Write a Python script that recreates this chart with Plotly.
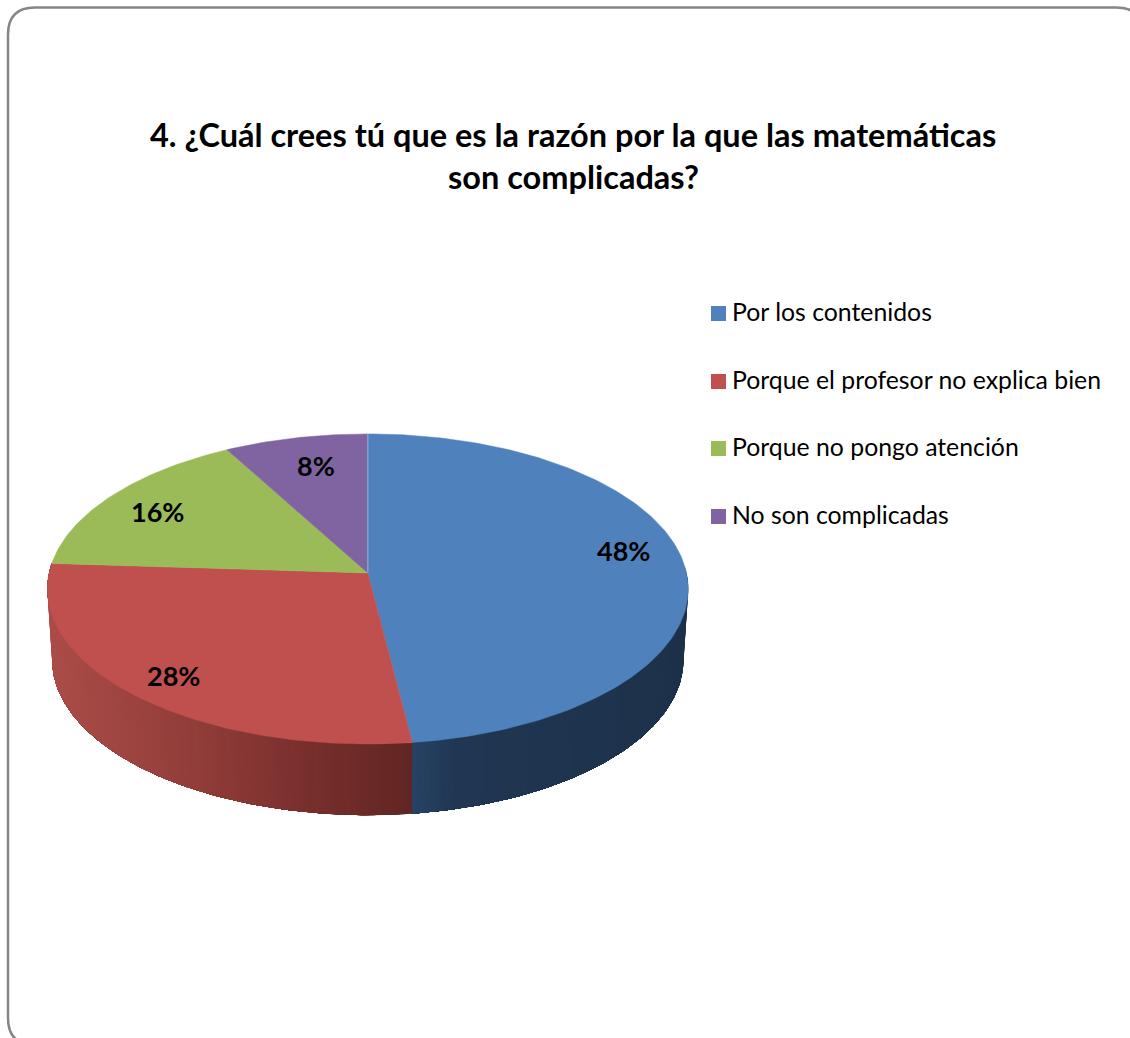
import math
import plotly.graph_objects as go

# Survey results
categories = ["Por los contenidos", "Porque el profesor no explica bien",
              "Porque no pongo atención", "No son complicadas"]
percentages = [48, 28, 16, 8]
title_lines = ["4. ¿Cuál crees tú que es la razón por la que las matemáticas",
               "son complicadas?"]

# Slice styling
top_colors = ["#4F81BD", "#C0504D", "#9BBB59", "#8064A2"]
side_ramps = [
    [(412, (38, 66, 100)), (460, (32, 54, 82)), (690, (29, 49, 74))],
    [(50, (171, 76, 72)), (200, (144, 60, 57)), (300, (122, 48, 45)), (412, (96, 38, 35))],
    None,
    None,
]
label_anchor = [(623.5, 550), (173, 675), (157.5, 511), (316, 465)]
legend_rows = [313.5, 381.5, 448.5, 516.5]

# Perspective model of the tilted disc
APEX_X, APEX_Y = 367.8, 573.0
TILT = 0.103
TOP_A, TOP_B = 318.7, 153.4
BASE_A, BASE_B, BASE_Y = 314.0, 154.0, 643.5
FONT = "Lato"


def project(theta_deg, a, b, cy):
    t = math.radians(theta_deg)
    u, v = math.sin(t), math.cos(t)
    w = 1 + TILT * v
    return APEX_X + a * u / w, cy - b * v / w


def ramp_color(ramp, x):
    if x <= ramp[0][0]:
        c = ramp[0][1]
    elif x >= ramp[-1][0]:
        c = ramp[-1][1]
    else:
        for (x0, c0), (x1, c1) in zip(ramp, ramp[1:]):
            if x0 <= x <= x1:
                f = (x - x0) / (x1 - x0)
                c = tuple(c0[i] + (c1[i] - c0[i]) * f for i in range(3))
                break
    return "rgb(%d,%d,%d)" % tuple(round(p) for p in c)


def degrees_between(a, b, step=1.0):
    n = max(1, int(abs(b - a) / step))
    return [a + (b - a) * i / n for i in range(n + 1)]


fig = go.Figure()

# Slice boundaries in degrees, clockwise from twelve o'clock
total = sum(percentages)
edges = [0.0]
for p in percentages:
    edges.append(edges[-1] + 360.0 * p / total)

# Side wall: each band spans from its own angle to the front end of the slice,
# so later bands paint over earlier ones and no seams show between them
for i, ramp in enumerate(side_ramps):
    if ramp is None:
        continue
    start, end = edges[i], edges[i + 1]
    sweep = degrees_between(max(start, 88.0), end) if i == 0 else degrees_between(end, start)[::-1]
    for j, a0 in enumerate(sweep[:-1]):
        rest = sweep[j:]
        upper = [project(a, TOP_A, TOP_B, APEX_Y) for a in rest]
        lower = [project(a, BASE_A, BASE_B, BASE_Y) for a in reversed(rest)]
        outline = upper + lower + upper[:1]
        color = ramp_color(ramp, (upper[0][0] + upper[1][0]) / 2)
        fig.add_trace(go.Scatter(
            x=[p[0] for p in outline], y=[p[1] for p in outline],
            mode="lines", fill="toself", fillcolor=color,
            line=dict(width=0), hoverinfo="skip", showlegend=False,
        ))

# Top face of each slice
for i, color in enumerate(top_colors):
    rim = [project(a, TOP_A, TOP_B, APEX_Y) for a in degrees_between(edges[i], edges[i + 1])]
    xs = [APEX_X] + [p[0] for p in rim] + [APEX_X]
    ys = [APEX_Y] + [p[1] for p in rim] + [APEX_Y]
    fig.add_trace(go.Scatter(
        x=xs, y=ys, mode="lines", fill="toself", fillcolor=color,
        line=dict(color=color, width=0.5),
        name=categories[i], hoverinfo="name", showlegend=False,
    ))

# Highlight along the twelve o'clock edge
rim_top = project(edges[0], TOP_A, TOP_B, APEX_Y)
fig.add_trace(go.Scatter(
    x=[APEX_X, rim_top[0]], y=[APEX_Y, rim_top[1]], mode="lines",
    line=dict(color="#7FA3CF", width=1.5), hoverinfo="skip", showlegend=False,
))

# Percentage labels
annotations = [
    dict(x=x, y=y, text=f"<b>{p}%</b>", showarrow=False, xref="x", yref="y",
         font=dict(family=FONT, size=27, color="#000000"))
    for (x, y), p in zip(label_anchor, percentages)
]

# Two-line title
for line, y in zip(title_lines, (134, 176)):
    annotations.append(dict(x=573, y=y, text=f"<b>{line}</b>", showarrow=False,
                            xref="x", yref="y",
                            font=dict(family=FONT, size=32.5, color="#000000")))

# Legend: colour keys and their labels, one row per category
shapes = []
for name, color, y in zip(categories, top_colors, legend_rows):
    shapes.append(dict(type="rect", xref="x", yref="y", x0=711, x1=726,
                       y0=y - 7.5, y1=y + 7.5, fillcolor=color, line=dict(width=0)))
    annotations.append(dict(x=730, y=y - 2, text=name, showarrow=False, xref="x", yref="y",
                            xanchor="left", font=dict(family=FONT, size=24.8, color="#000000")))

# Rounded chart frame running past the right and bottom edges of the page
L, T, R, B, C = 8, 7.5, 1143, 1045, 27
frame = (f"M {L + C} {T} L {R - C} {T} Q {R} {T} {R} {T + C} L {R} {B - C} "
         f"Q {R} {B} {R - C} {B} L {L + C} {B} Q {L} {B} {L} {B - C} "
         f"L {L} {T + C} Q {L} {T} {L + C} {T} Z")
shapes.append(dict(type="path", path=frame, xref="x", yref="y",
                   line=dict(color="#868686", width=2.5), layer="below"))

fig.update_layout(
    width=1130, height=1038, margin=dict(l=0, r=0, t=0, b=0),
    paper_bgcolor="white", plot_bgcolor="white",
    xaxis=dict(range=[0, 1130], visible=False, fixedrange=True),
    yaxis=dict(range=[1038, 0], visible=False, fixedrange=True),
    shapes=shapes,
    annotations=annotations,
    showlegend=False,
)

fig.write_html("out.html")
